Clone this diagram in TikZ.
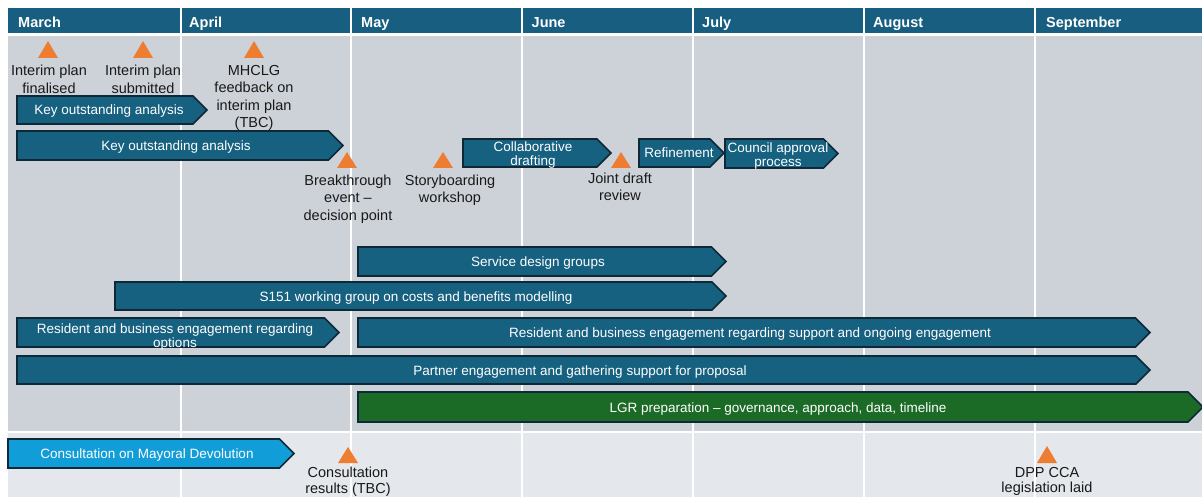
\documentclass[tikz,border=0pt]{standalone}
\usepackage{fontspec}
\setmainfont{Liberation Sans}
\definecolor{hdr}{RGB}{23,94,128}
\definecolor{barblue}{RGB}{22,96,128}
\definecolor{barline}{RGB}{14,40,56}
\definecolor{bargreen}{RGB}{27,107,38}
\definecolor{barlblue}{RGB}{17,157,216}
\definecolor{milestone}{RGB}{237,125,49}
\definecolor{bodygray}{RGB}{205,210,217}
\definecolor{lowgray}{RGB}{228,231,235}
\newcommand{\chevshape}[6]{%
  \pgfmathsetmacro\chevb{#3-(#5-#4)/2}%
  \pgfmathsetmacro\chevm{(#4+#5)/2}%
  \draw[#6] (#2,#4) -- (\chevb,#4) -- (#3,\chevm) -- (\chevb,#5) -- (#2,#5) -- cycle;%
}
\newcommand{\tri}[3]{%
  \fill[milestone] (#1-10,#3) -- (#1+10,#3) -- (#1,#2) -- cycle;%
}
\begin{document}
\begin{tikzpicture}[x=1pt,y=-1pt,
  chevblue/.style={fill=barblue,draw=barline,line width=1.6pt,line join=miter},
  chevgreen/.style={fill=bargreen,draw=barline,line width=1.6pt,line join=miter},
  chevlblue/.style={fill=barlblue,draw=barline,line width=1.6pt,line join=miter},
  bartext/.style={text=white,inner sep=0pt,align=center,font=\fontsize{13.5}{14}\selectfont},
  lbl/.style={text=black!90,inner sep=0pt,align=center,anchor=north,font=\fontsize{14.5}{17.5}\selectfont},
  lowlbl/.style={lbl,font=\fontsize{14.5}{15.5}\selectfont},
  month/.style={text=white,inner sep=0pt,anchor=base west,font=\bfseries\fontsize{14.5}{17}\selectfont},
  grid/.style={draw=white,line width=2pt}]
\useasboundingbox (0,0) rectangle (1202,497);
\fill[white] (0,0) rectangle (1202,497);
% background areas
\fill[hdr] (8,8) rectangle (1202,33.5);
\fill[bodygray] (8,36.5) rectangle (1202,431);
\fill[lowgray] (8,433) rectangle (1202,497);
% month grid lines
\foreach \gx in {180.5,351,522,692.5,864,1035}
  \draw[grid] (\gx,8) -- (\gx,497);
% month headings
\node[month] (mMar) at (18,27.5) {March};
\node[month] (mApr) at (189,27.5) {April};
\node[month] (mMay) at (361,27.5) {May};
\node[month] (mJun) at (531.5,27.5) {June};
\node[month] (mJul) at (702,27.5) {July};
\node[month] (mAug) at (873,27.5) {August};
\node[month] (mSep) at (1046,27.5) {September};
% bars
\chevshape{key1}{17}{207}{96}{124}{chevblue}
\node[bartext,anchor=base] (tkey1) at (109,115) {Key outstanding analysis};
\chevshape{key2}{17}{343}{131}{160}{chevblue}
\node[bartext,anchor=base] (tkey2) at (176,150.5) {Key outstanding analysis};
\chevshape{collab}{463}{611}{139}{167}{chevblue}
\node[bartext,anchor=north] (tcollab) at (533,141.8) {Collaborative\\drafting};
\chevshape{refine}{639}{724}{139}{167}{chevblue}
\node[bartext,anchor=base] (trefine) at (679,158) {Refinement};
\chevshape{council}{725}{838}{139}{168}{chevblue}
\node[bartext,anchor=north] (tcouncil) at (778,142.3) {Council approval\\process};
\chevshape{service}{358}{726}{247}{276}{chevblue}
\node[bartext,anchor=base] (tservice) at (538,266.5) {Service design groups};
\chevshape{s151}{115}{726}{282}{310}{chevblue}
\node[bartext,anchor=base] (ts151) at (416,301) {S151 working group on costs and benefits modelling};
\chevshape{resopt}{17}{339}{318}{347}{chevblue}
\node[bartext,anchor=north] (tresopt) at (175,323.3) {Resident and business engagement regarding\\options};
\chevshape{ressup}{358}{1150}{318}{347}{chevblue}
\node[bartext,anchor=base] (tressup) at (750,337.5) {Resident and business engagement regarding support and ongoing engagement};
\chevshape{partner}{17}{1150}{356}{384}{chevblue}
\node[bartext,anchor=base] (tpartner) at (580,375) {Partner engagement and gathering support for proposal};
\chevshape{lgr}{358}{1203}{392}{422}{chevgreen}
\node[bartext,anchor=base] (tlgr) at (778,412) {LGR preparation – governance, approach, data, timeline};
\chevshape{consult}{8}{294}{439}{468}{chevlblue}
\node[bartext,anchor=base] (tconsult) at (147,458.5) {Consultation on Mayoral Devolution};
% milestones
\tri{48}{41}{58}
\node[lbl] (l1) at (49,65) {Interim plan\\finalised};
\tri{143}{41}{58}
\node[lbl] (l2) at (143,65) {Interim plan\\submitted};
\tri{254}{41}{58}
\node[lbl] (l3) at (254,65) {MHCLG\\feedback on\\interim plan\\(TBC)};
\tri{347}{152}{168}
\node[lbl] (l4) at (348,174.5) {Breakthrough\\event –\\decision point};
\tri{443}{152}{168}
\node[lbl] (l5) at (450,174.5) {Storyboarding\\workshop};
\tri{621}{152}{168}
\node[lbl] (l6) at (620,172.5) {Joint draft\\review};
\tri{348}{447}{463}
\node[lowlbl] (l7) at (348,467) {Consultation\\results (TBC)};
\tri{1047}{446}{463}
\node[lowlbl] (l8) at (1047,467) {DPP CCA\\legislation laid};
\end{tikzpicture}
\end{document}
